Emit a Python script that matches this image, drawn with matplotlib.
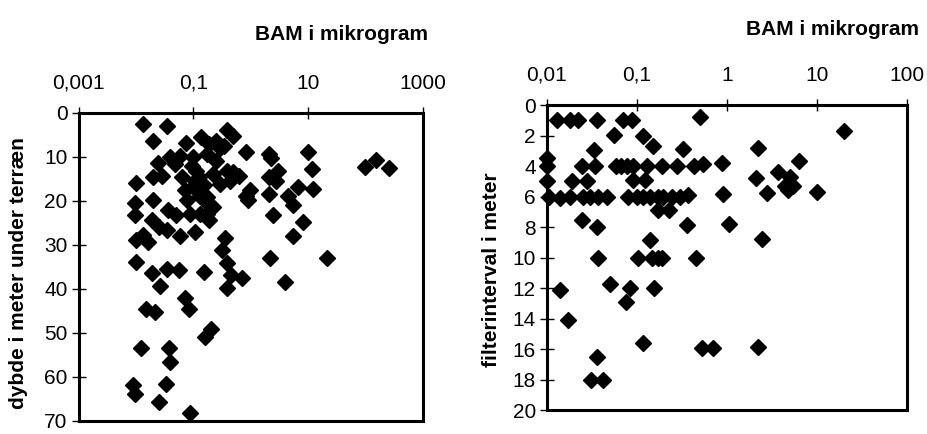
import matplotlib
matplotlib.use("Agg")
import matplotlib.pyplot as plt
from matplotlib.ticker import FixedLocator, FixedFormatter, NullLocator

plt.rcParams['font.family'] = ['Liberation Sans', 'DejaVu Sans']

# left chart: BAM vs depth below ground
left_bam = [0.013, 0.034, 0.020, 0.074, 0.138, 0.245, 0.34, 0.39, 0.49, 0.83,
            2.1, 2.3, 10, 11.5, 12, 100, 155, 257, 0.010, 0.0095,
            0.0095, 0.010, 0.016, 0.010, 0.019, 0.026, 0.015, 0.021, 0.012, 0.038,
            0.039, 0.033, 0.0089, 0.0095, 0.025, 0.087, 0.034, 0.056, 0.071, 0.083,
            0.16, 0.20, 0.15, 0.38, 0.39, 0.46, 0.69, 0.35, 0.31, 2.2,
            3.9, 21, 5.4, 8.3, 2.4, 2.1, 2.1, 3.0, 2.75, 4.5,
            5.5, 6.8, 0.89, 0.98, 0.83, 0.105, 0.058, 0.034, 0.025, 0.020,
            0.019, 0.013, 0.024, 0.028, 0.020, 0.039, 0.058, 0.062, 0.10, 0.11,
            0.076, 0.10, 0.15, 0.17, 0.22, 0.19, 0.25, 0.22, 0.38, 0.49,
            0.63, 0.43, 0.29, 0.126, 0.087, 0.050, 0.036, 0.15, 0.13, 0.17,
            0.071, 0.047, 0.093, 0.17, 0.29, 0.19, 0.105, 0.13]
left_depth = [2.5, 3, 6.5, 6.9, 5.6, 6.5, 7.5, 3.8, 5.3, 8.8,
              9.4, 10.3, 9, 12.8, 17.3, 12.2, 10.7, 12.5, 16, 20.5,
              23.3, 28.9, 29.3, 33.8, 36.4, 39.4, 44.5, 45.2, 53.5, 53.5,
              56.6, 61.5, 61.9, 63.8, 65.6, 68.3, 35.4, 35.6, 42, 44.6,
              51, 49.1, 36.2, 39.8, 34.1, 36.8, 37.5, 28.5, 31.1, 33,
              38.5, 33, 28, 24.8, 23.1, 18.4, 14.6, 13.3, 15.5, 19,
              21, 16.9, 19.9, 17.5, 18.8, 27, 28, 26.6, 25.9, 19.7,
              24.4, 27.8, 11.3, 14.3, 14.6, 10, 9.8, 14.6, 10.1, 13.1,
              19.9, 16.9, 16.5, 19.1, 21.4, 24.4, 10.9, 13.9, 13.1, 13.5,
              14.3, 15.4, 16.1, 14.6, 22.9, 23.3, 22.1, 19.9, 22.9, 22.9,
              17.6, 11.6, 12.0, 9.4, 7.9, 7.1, 15.4, 18.8]

# right chart: BAM vs filter interval
right_bam = [0.013, 0.018, 0.022, 0.036, 0.071, 0.089, 0.51, 20, 0.055, 0.117,
             0.15, 0.33, 2.2, 0.033, 0.010, 0.010, 0.010, 0.0245, 0.034, 0.058,
             0.067, 0.078, 0.09, 0.13, 0.19, 0.28, 0.43, 0.55, 0.89, 6.4,
             0.019, 0.028, 0.091, 0.123, 3.7, 2.1, 5.1, 4.4, 4.8, 5.4,
             2.8, 10.2, 0.0105, 0.014, 0.018, 0.025, 0.030, 0.037, 0.046, 0.079,
             0.10, 0.117, 0.14, 0.17, 0.195, 0.245, 0.30, 0.37, 0.91, 0.17,
             0.23, 0.0245, 0.036, 0.36, 1.05, 0.14, 2.45, 0.037, 0.103, 0.148,
             0.17, 0.19, 0.45, 0.014, 0.050, 0.084, 0.076, 0.156, 0.017, 0.118,
             0.53, 0.71, 2.2, 0.036, 0.031, 0.042]
right_filter = [1.0, 1.0, 1.0, 1.0, 1.0, 1.0, 0.8, 1.7, 1.95, 2.0,
                2.7, 2.85, 2.8, 2.95, 3.5, 4.0, 5.0, 4.0, 4.0, 4.0,
                4.0, 4.0, 4.0, 4.0, 4.0, 4.0, 4.0, 3.85, 3.8, 3.7,
                5.0, 5.0, 4.9, 4.9, 4.4, 4.8, 4.75, 5.3, 5.55, 5.3,
                5.75, 5.7, 6.0, 6.1, 6.0, 6.0, 6.0, 6.0, 6.0, 6.0,
                6.0, 6.0, 6.0, 6.0, 6.0, 6.0, 6.0, 5.9, 5.8, 6.9,
                6.9, 7.55, 8.0, 7.85, 7.8, 8.85, 8.8, 10, 10, 10,
                10, 10, 10, 12.1, 11.7, 12.0, 12.9, 12.0, 14.1, 15.6,
                15.9, 15.9, 15.85, 16.5, 18.0, 18.0]

left_xticks = [0.001, 0.1, 10, 1000]
left_xlabels = ['0,001', '0,1', '10', '1000']
left_yticks = [0, 10, 20, 30, 40, 50, 60, 70]
right_xticks = [0.01, 0.1, 1, 10, 100]
right_xlabels = ['0,01', '0,1', '1', '10', '100']
right_yticks = [0, 2, 4, 6, 8, 10, 12, 14, 16, 18, 20]

fig = plt.figure(figsize=(9.27, 4.34), dpi=100)
ax1 = fig.add_axes([0.085, 0.030, 0.371, 0.710])
ax2 = fig.add_axes([0.590, 0.055, 0.388, 0.703])


def style(ax, xticks, xlabels, yticks, ylabel, xlim, ylim, xlab_pos, ylab_pos):
    ax.set_xscale('log')
    ax.set_xlim(*xlim)
    ax.set_ylim(*ylim)
    ax.xaxis.set_major_locator(FixedLocator(xticks))
    ax.xaxis.set_major_formatter(FixedFormatter(xlabels))
    ax.xaxis.set_minor_locator(NullLocator())
    ax.set_yticks(yticks)
    ax.xaxis.tick_top()
    ax.tick_params(axis='x', direction='inout', length=9, width=1, pad=10,
                   labelsize=15)
    ax.tick_params(axis='y', direction='inout', length=10, width=1, pad=3,
                   labelsize=15)
    for sp in ax.spines.values():
        sp.set_linewidth(2.2)
    ax.xaxis.set_label_position('top')
    ax.set_xlabel('BAM i mikrogram', fontsize=15, fontweight='bold')
    ax.xaxis.label.set_va('center')
    ax.xaxis.set_label_coords(*xlab_pos)
    ax.set_ylabel(ylabel, fontsize=15, fontweight='bold')
    ax.yaxis.label.set_va('center')
    ax.yaxis.set_label_coords(*ylab_pos)


ax1.plot(left_bam, left_depth, 'D', color='black', markersize=8.5,
         clip_on=False)
style(ax1, left_xticks, left_xlabels, left_yticks,
      'dybde i meter under terræn', (0.001, 1000), (70, 0),
      (0.765, 1.253), (-0.175, 0.48))

ax2.plot(right_bam, right_filter, 'D', color='black', markersize=8.5,
         clip_on=False)
style(ax2, right_xticks, right_xlabels, right_yticks,
      'filterinterval i meter', (0.01, 100), (20, 0),
      (0.794, 1.246), (-0.155, 0.459))

fig.savefig('out.png', dpi=100)
